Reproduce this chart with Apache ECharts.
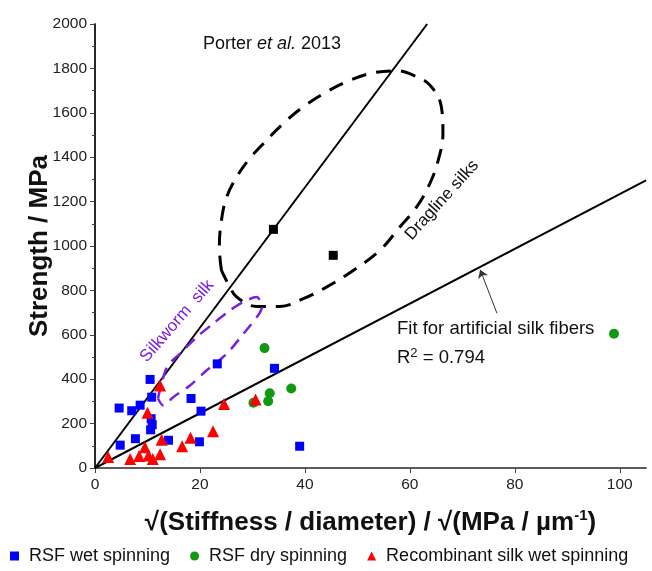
<!DOCTYPE html>
<html>
<head>
<meta charset="utf-8">
<script src="https://cdn.jsdelivr.net/npm/echarts@6/dist/echarts.min.js"></script>
<style>
  html, body { margin: 0; padding: 0; background: #fff; }
  #chart { width: 652px; height: 571px; }
</style>
</head>
<body>
<div id="chart"></div>
<script>
// values
const xTicks = [0, 20, 40, 60, 80, 100];

const rsfWet = [[4.6,270],[7.0,258],[8.6,283],[10.5,399],[10.8,319],[10.7,222],[10.9,195],[10.6,172],
  [7.7,132],[4.8,103],[14.0,125],[18.3,313],[20.2,256],[19.9,118],[23.3,469],[34.2,449],[39.0,98]];
const rsfDry = [[32.3,540],[33.3,337],[33.0,301],[30.2,294],[37.4,358],[98.9,605]];
const recombinant = [[2.5,49],[6.7,40],[8.4,54],[9.5,94],[10.0,249],[10.2,56],[11.0,40],[12.4,62],
  [12.7,127],[12.4,372],[16.6,98],[18.2,136],[22.5,165],[24.6,288],[30.6,309]];
const porter = [[34.0,1075],[45.4,958]];

const draglineLine = [[0,0],[63.3,2000]];
const fitLine = [[0,0],[105,1296]];
const arrowLine = [[76.6,697],[73.4,893]];

const draglineLoop = [[24.1,890],[23.7,995],[24.1,1116],[25.1,1221],[27.0,1311],[29.2,1386],[32.1,1462],
  [35.9,1552],[39.7,1627],[44.1,1694],[48.6,1747],[53.0,1780],[57.5,1789],[60.6,1770],[63.8,1725],
  [66.0,1627],[66.3,1507],[65.4,1386],[63.8,1281],[61.3,1176],[58.1,1086],[54.3,981],[49.2,890],
  [44.1,815],[39.7,763],[35.2,728],[30.8,728],[27.0,770],[25.7,815],[24.1,890]];
const silkwormLoop = [[12.0,313],[13.7,454],[16.2,515],[19.4,590],[22.5,650],[25.7,710],[28.3,748],
  [30.8,770],[31.8,725],[31.1,688],[28.3,605],[25.1,515],[21.3,440],[18.1,372],[14.9,319],[13.0,282],[12.0,313]];

const font = '"Liberation Sans", Arial, sans-serif';
const purple = '#7a1fe0';

const chart = echarts.init(document.getElementById('chart'));

chart.setOption({
  animation: false,
  grid: { left: 95, right: 6, top: 24, bottom: 103 },
  legend: {
    left: 5, bottom: 1,
    itemWidth: 9, itemHeight: 9, itemGap: 20,
    textStyle: { fontFamily: font, fontSize: 18, color: '#111', padding: [0, 0, 0, 5] },
    data: ['RSF wet spinning', 'RSF dry spinning', 'Recombinant silk wet spinning']
  },
  xAxis: [{
    type: 'value', min: 0, max: 105, interval: 20,
    name: '{b|√(Stiffness / diameter) / √(MPa / µm}{s|-1}{b|)}',
    nameLocation: 'middle', nameGap: 40, nameMoveOverlap: false,
    nameTextStyle: {
      rich: {
        b: { fontFamily: font, fontWeight: 'bold', fontSize: 26, color: '#111', lineHeight: 30 },
        s: { fontFamily: font, fontWeight: 'bold', fontSize: 15, color: '#111', verticalAlign: 'top', lineHeight: 16 }
      }
    },
    axisLine: { lineStyle: { color: '#444', width: 1.5 } },
    axisTick: { inside: false, length: 5, customValues: xTicks, lineStyle: { color: '#444' } },
    axisLabel: { customValues: xTicks, fontFamily: font, fontSize: 15.5, color: '#222', margin: 9 },
    splitLine: { show: false }
  }, {
    type: 'value', position: 'top', min: 0, max: 105,
    axisLine: { show: true, lineStyle: { color: '#555', width: 1.5 } },
    axisTick: { show: false }, axisLabel: { show: false }, splitLine: { show: false }
  }],
  yAxis: [{
    type: 'value', min: 0, max: 2000, interval: 200,
    name: 'Strength / MPa', nameLocation: 'middle', nameGap: 42, nameMoveOverlap: false,
    nameTextStyle: { fontFamily: font, fontWeight: 'bold', fontSize: 26, color: '#111' },
    axisLine: { show: true, lineStyle: { color: '#444', width: 1.5 } },
    axisTick: { show: true, inside: false, length: 5, lineStyle: { color: '#444' } },
    minorTick: { show: true, splitNumber: 2, length: 3, lineStyle: { color: '#444' } },
    axisLabel: { fontFamily: font, fontSize: 15.5, color: '#222', margin: 8, formatter: v => String(v) },
    splitLine: { show: false }
  }, {
    type: 'value', position: 'right', min: 0, max: 2000,
    axisLine: { show: true, lineStyle: { color: '#111', width: 1.5 } },
    axisTick: { show: false }, axisLabel: { show: false }, splitLine: { show: false }
  }],
  series: [
    {
      type: 'line', data: draglineLine, showSymbol: false, silent: true, z: 2,
      lineStyle: { color: '#000', width: 2 }
    },
    {
      type: 'line', data: fitLine, showSymbol: false, silent: true, z: 2,
      lineStyle: { color: '#000', width: 2 }
    },
    {
      type: 'line', data: draglineLoop, showSymbol: false, smooth: 0.4, silent: true, z: 2,
      lineStyle: { color: '#000', width: 3, type: [15, 10] }
    },
    {
      type: 'line', data: silkwormLoop, showSymbol: false, smooth: 0.3, silent: true, z: 2,
      lineStyle: { color: purple, width: 2.5, type: [12, 8] }
    },
    {
      type: 'lines', coordinateSystem: 'cartesian2d', silent: true, z: 2,
      symbol: ['none', 'arrow'], symbolSize: 8,
      lineStyle: { color: '#333', width: 1, opacity: 1 },
      data: [{ coords: arrowLine }]
    },
    {
      name: 'Porter', type: 'scatter', data: porter, symbol: 'rect', symbolSize: 9, z: 4,
      itemStyle: { color: '#000', opacity: 1 }
    },
    {
      name: 'RSF wet spinning', type: 'scatter', data: rsfWet, symbol: 'rect', symbolSize: 9, z: 4,
      itemStyle: { color: '#0000ff', opacity: 1 }
    },
    {
      name: 'RSF dry spinning', type: 'scatter', data: rsfDry, symbol: 'circle', symbolSize: 10, z: 4,
      itemStyle: { color: '#119911', opacity: 1 }
    },
    {
      name: 'Recombinant silk wet spinning', type: 'scatter', data: recombinant, symbol: 'triangle', symbolSize: 12, z: 4,
      itemStyle: { color: '#ff0000', opacity: 1 }
    }
  ],
  graphic: [
    {
      type: 'text', x: 203, y: 44, z: 10,
      style: {
        text: '{n|Porter }{i|et al.}{n| 2013}',
        verticalAlign: 'middle',
        rich: {
          n: { fontFamily: font, fontSize: 18, fill: '#111' },
          i: { fontFamily: font, fontSize: 18, fontStyle: 'italic', fill: '#111' }
        }
      }
    },
    {
      type: 'text', x: 442, y: 200, rotation: 48 * Math.PI / 180, z: 10,
      style: { text: 'Dragline silks', font: '17px ' + font, fill: '#111', align: 'center', verticalAlign: 'middle' }
    },
    {
      type: 'text', x: 177, y: 321, rotation: 49 * Math.PI / 180, z: 10,
      style: { text: 'Silkworm  silk', font: '17px ' + font, fill: purple, align: 'center', verticalAlign: 'middle' }
    },
    {
      type: 'text', x: 397, y: 329, z: 10,
      style: { text: 'Fit for artificial silk fibers', font: '18.5px ' + font, fill: '#111', verticalAlign: 'middle' }
    },
    {
      type: 'text', x: 397, y: 358, z: 10,
      style: {
        text: '{n|R}{s|2}{n| = 0.794}',
        verticalAlign: 'middle',
        rich: {
          n: { fontFamily: font, fontSize: 18.5, fill: '#111', lineHeight: 22 },
          s: { fontFamily: font, fontSize: 13, fill: '#111', verticalAlign: 'top', lineHeight: 14 }
        }
      }
    }
  ]
});
</script>
</body>
</html>
